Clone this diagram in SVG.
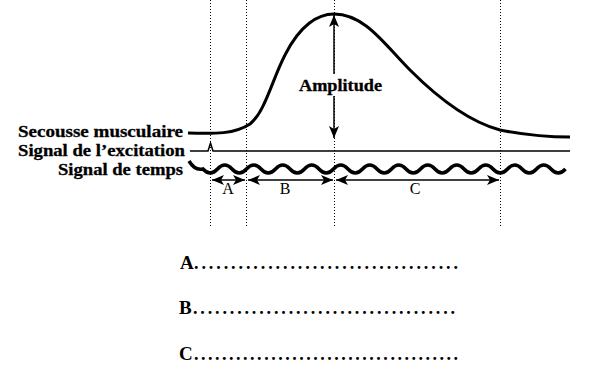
<svg xmlns="http://www.w3.org/2000/svg" width="600" height="379" viewBox="0 0 600 379">
<style>
.lbl{font-family:"Liberation Serif","Times New Roman",serif;font-weight:bold;font-size:17px;fill:#000;stroke:#000;stroke-width:0.3}
.seg{font-family:"Liberation Serif","Times New Roman",serif;font-size:16px;fill:#000}
.dot{stroke:#000;stroke-width:1;stroke-dasharray:1,2;fill:none}
.ln{stroke:#000;fill:none}
.arr{stroke:#000;stroke-width:1.5;fill:none;marker-start:url(#ah);marker-end:url(#ah)}
.ans{font-family:"Liberation Serif","Times New Roman",serif;font-size:18px;fill:#000}
.let{font-weight:bold;font-size:19px}
</style>
<defs>
<marker id="ah" viewBox="0 0 12 10" refX="12" refY="5" markerWidth="12" markerHeight="10" markerUnits="userSpaceOnUse" orient="auto-start-reverse">
<path d="M0,0 L12,5 L0,10 L3,5 z" fill="#000"/>
</marker>
</defs>
<g id="guides">
<line class="dot" x1="210.5" y1="0" x2="210.5" y2="228"/>
<line class="dot" x1="246.5" y1="0" x2="246.5" y2="228"/>
<line class="dot" x1="334.5" y1="0" x2="334.5" y2="228"/>
<line class="dot" x1="500.5" y1="0" x2="500.5" y2="228"/>
</g>
<g id="secousse">
<path class="ln" stroke-width="3" d="M188,133 C215,134 235,134 250,124 C265,112 272,80 285,55 C300,25 318,14 334,14 C365,14 385,45 410,70 C440,100 470,122 500,130 C530,136 550,137 570,137"/>
</g>
<g id="excitation">
<path class="ln" stroke-width="1.5" d="M190,151 L208,151 L210.5,143 L213,151 L570,151"/>
</g>
<g id="temps">
<path class="ln" stroke-width="3.5" d="M189,161 Q195,171 203,169 q7.25,8 14.5,0 t14.5,0 t14.5,0 t14.5,0 t14.5,0 t14.5,0 t14.5,0 t14.5,0 t14.5,0 t14.5,0 t14.5,0 t14.5,0 t14.5,0 t14.5,0 t14.5,0 t14.5,0 t14.5,0 t14.5,0 t14.5,0 t14.5,0 t14.5,0 t14.5,0 t14.5,0 t14.5,0 t14.5,0"/>
</g>
<g id="connectors">
<line class="arr" x1="212" y1="180" x2="245" y2="180"/>
<line class="arr" x1="248" y1="180" x2="333" y2="180"/>
<line class="arr" x1="336" y1="180" x2="499" y2="180"/>
<line class="arr" x1="334" y1="15" x2="334" y2="138"/>
</g>
<g id="amplitude">
<rect x="297" y="74" width="88" height="22" fill="#fff"/>
<text class="lbl" x="299" y="91" textLength="83" lengthAdjust="spacingAndGlyphs">Amplitude</text>
</g>
<g id="labels">
<text class="lbl" x="18" y="137" textLength="165" lengthAdjust="spacingAndGlyphs">Secousse musculaire</text>
<text class="lbl" x="18" y="156" textLength="167" lengthAdjust="spacingAndGlyphs">Signal de l’excitation</text>
<text class="lbl" x="58" y="175" textLength="125" lengthAdjust="spacingAndGlyphs">Signal de temps</text>
<text class="seg" x="228" y="194" text-anchor="middle">A</text>
<text class="seg" x="285" y="194" text-anchor="middle">B</text>
<text class="seg" x="415" y="194" text-anchor="middle">C</text>
</g>
<g id="answers">
<text class="ans" x="180" y="269"><tspan class="let">A</tspan><tspan x="194" font-weight="bold" textLength="264" lengthAdjust="spacing">....................................</tspan></text>
<text class="ans" x="179" y="314"><tspan class="let">B</tspan><tspan x="193" font-weight="bold" textLength="262" lengthAdjust="spacing">....................................</tspan></text>
<text class="ans" x="179" y="360"><tspan class="let">C</tspan><tspan x="194" font-weight="bold" textLength="264" lengthAdjust="spacing">......................................</tspan></text>
</g>
</svg>
